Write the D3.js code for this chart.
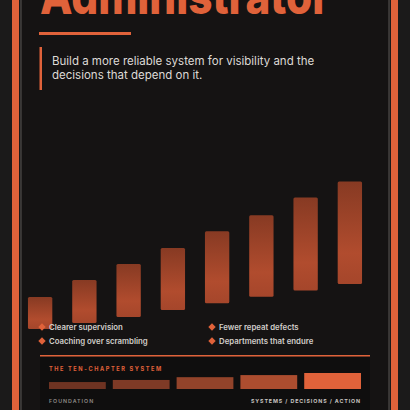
<!DOCTYPE html>
<html><head><meta charset="utf-8">
<script src="https://cdn.jsdelivr.net/npm/d3@7"></script>
<style>html,body{margin:0;padding:0;background:#1b1a1a;}svg{display:block;}</style>
</head><body>
<svg id="c" width="410" height="410"></svg>
<script>
const title = "Administrator";
const subtitle = ["Build a more reliable system for visibility and the", "decisions that depend on it."];
const steps = [1,2,3,4,5,6,7,8];
const lows  = [6.9,10.6,14.4,18.8,23,27,31,35];
const highs = [26.9,37.5,47.5,57.5,68,78,89,99];
const legendItems = ["Clearer supervision","Fewer repeat defects","Coaching over scrambling","Departments that endure"];
const chapters = [1,2,3,4,5];
const chapterValues = [1,1.3,1.7,2.0,2.3];
const chapterColors = ["#6e3322","#7e3a26","#92432a","#ac4d2f","#e0623a"];
const sysTitle = "THE TEN-CHAPTER SYSTEM";
const sysLeft = "FOUNDATION", sysRight = "SYSTEMS / DECISIONS / ACTION";

const svg = d3.select("#c");
const F = "Inter, 'Noto Sans', sans-serif";
svg.append("rect").attr("width",410).attr("height",410).attr("fill","#1b1a1a");
svg.append("rect").attr("x",12).attr("y",0).attr("width",7).attr("height",410).attr("fill","#e0623a");
svg.append("rect").attr("x",391).attr("y",0).attr("width",7).attr("height",410).attr("fill","#e0623a");
svg.append("rect").attr("x",21).attr("y",-2).attr("width",368).attr("height",420).attr("fill","#151313").attr("stroke","#5a5654").attr("stroke-width",1);

svg.append("text").attr("x",40).attr("y",14).attr("font-family",F).attr("font-weight",800)
  .attr("font-size",50).attr("fill","#e0623a").attr("textLength",290).attr("lengthAdjust","spacingAndGlyphs").text(title);
svg.append("rect").attr("x",39).attr("y",32).attr("width",92).attr("height",3).attr("fill","#e0623a");
svg.append("rect").attr("x",39.5).attr("y",47).attr("width",2.5).attr("height",43).attr("fill","#e0623a");
subtitle.forEach((s,i)=>svg.append("text").attr("x",52).attr("y",65+i*14).attr("font-family",F)
  .attr("font-size",11.5).attr("fill","#dedad6").text(s));

const defs = svg.append("defs");
const g = defs.append("linearGradient").attr("id","bg").attr("x1",0).attr("y1",0).attr("x2",0).attr("y2",1);
g.append("stop").attr("offset","0%").attr("stop-color","#873a23");
g.append("stop").attr("offset","70%").attr("stop-color","#b14c2e");
g.append("stop").attr("offset","100%").attr("stop-color","#a5462b");

const x = d3.scaleBand().domain(steps).range([20,370]).paddingInner(0.45).paddingOuter(0.18);
const y = d3.scaleLinear().domain([0,100]).range([340,180]);
svg.append("g").selectAll("rect").data(steps).join("rect")
  .attr("x",d=>x(d)).attr("width",x.bandwidth())
  .attr("y",(d,i)=>y(highs[i])).attr("height",(d,i)=>y(lows[i])-y(highs[i]))
  .attr("rx",1.5).attr("fill","url(#bg)");

legendItems.forEach((t,i)=>{
  const lx = i%2===0?42:212, ly = 327+Math.floor(i/2)*14;
  svg.append("rect").attr("x",lx-2.6).attr("y",ly-2.6).attr("width",5.2).attr("height",5.2)
    .attr("transform",`rotate(45 ${lx} ${ly})`).attr("fill","#e0623a");
  svg.append("text").attr("x",lx+7).attr("y",ly+3).attr("font-family",F).attr("font-weight",600)
    .attr("font-size",7.8).attr("fill","#d2ceca").text(t);
});

svg.append("rect").attr("x",40).attr("y",357).attr("width",330).attr("height",60).attr("fill","#0f0e0e");
svg.append("rect").attr("x",40).attr("y",355).attr("width",330).attr("height",1.5).attr("fill","#e0623a");
svg.append("text").attr("x",49).attr("y",371).attr("font-family",F).attr("font-weight",700).attr("font-size",5.6)
  .attr("letter-spacing",1.6).attr("fill","#e0623a").text(sysTitle);
const cx = d3.scaleBand().domain(chapters).range([49,361]).paddingInner(0.11);
const cy = d3.scaleLinear().domain([0,2.3]).range([389,373]);
svg.append("g").selectAll("rect").data(chapters).join("rect")
  .attr("x",d=>cx(d)).attr("width",cx.bandwidth())
  .attr("y",(d,i)=>cy(chapterValues[i]+ (i===0?0:0))).attr("height",(d,i)=>389-cy(chapterValues[i]))
  .attr("fill",(d,i)=>chapterColors[i]);
svg.append("text").attr("x",49).attr("y",403).attr("font-family",F).attr("font-weight",600).attr("font-size",5.3)
  .attr("letter-spacing",1).attr("fill","#8e8a86").text(sysLeft);
svg.append("text").attr("x",361).attr("y",403).attr("text-anchor","end").attr("font-family",F).attr("font-weight",700).attr("font-size",5.3)
  .attr("letter-spacing",0.9).attr("fill","#c8c4c0").text(sysRight);
</script>
</body></html>
